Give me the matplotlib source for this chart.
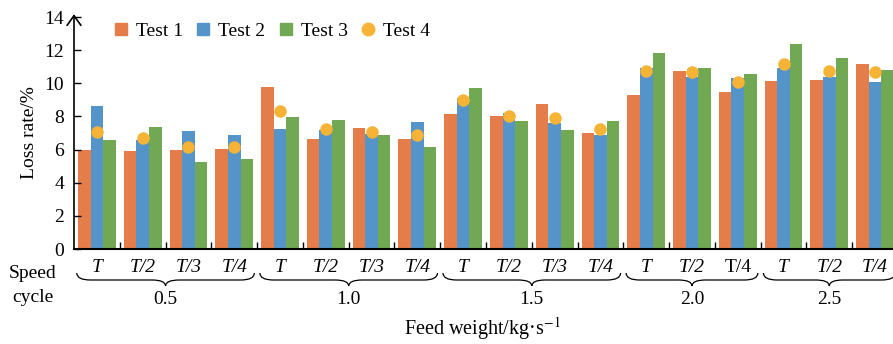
import numpy as np
import matplotlib
matplotlib.use('Agg')
import matplotlib.pyplot as plt
from matplotlib.path import Path
from matplotlib.patches import PathPatch
from matplotlib.lines import Line2D
import matplotlib.transforms as mtransforms

plt.rcParams['font.family'] = ['Liberation Serif', 'DejaVu Serif']
plt.rcParams['mathtext.fontset'] = 'stix'

# data
feed_weights = ['0.5', '1.0', '1.5', '2.0', '2.5']
group_sizes = [4, 4, 4, 3, 3]
speed_labels = ['T', 'T/2', 'T/3', 'T/4',
                'T', 'T/2', 'T/3', 'T/4',
                'T', 'T/2', 'T/3', 'T/4',
                'T', 'T/2', 'T/4',
                'T', 'T/2', 'T/4']
speed_italic = [True] * 14 + [False] + [True] * 3
test1 = [6.0, 5.9, 5.95, 6.05, 9.75, 6.65, 7.3, 6.65, 8.15, 8.05, 8.75, 7.0,
         9.3, 10.75, 9.45, 10.15, 10.2, 11.15]
test2 = [8.6, 6.6, 7.15, 6.9, 7.25, 7.2, 6.95, 7.65, 9.1, 8.2, 7.6, 6.85,
         10.9, 10.4, 10.3, 10.9, 10.4, 10.1]
test3 = [6.55, 7.35, 5.25, 5.45, 7.95, 7.8, 6.85, 6.15, 9.7, 7.7, 7.2, 7.7,
         11.85, 10.9, 10.55, 12.35, 11.55, 10.8]
test4 = [7.05, 6.7, 6.15, 6.15, 8.35, 7.25, 7.05, 6.85, 9.0, 8.05, 7.9, 7.25,
         10.75, 10.7, 10.1, 11.15, 10.75, 10.7]

c1, c2, c3, c4 = '#E57D4B', '#5594C8', '#71A854', '#F6B335'
fs = 14

W, H = 893, 344
fig = plt.figure(figsize=(W / 100, H / 100), dpi=100)
ax = fig.add_axes([74 / W, (H - 249) / H, (898 - 74) / W, (249 - 17) / H])

x = np.arange(len(test1))
bw = 0.275
ax.bar(x - bw, test1, bw, color=c1, linewidth=0)
ax.bar(x, test2, bw, color=c2, linewidth=0)
ax.bar(x + bw, test3, bw, color=c3, linewidth=0)
ax.plot(x, test4, 'o', color=c4, markersize=9, markeredgewidth=0, zorder=5)

ax.set_xlim(-0.5, len(test1) - 0.5)
ax.set_ylim(0, 14)
ax.set_yticks(np.arange(0, 15, 2))
ax.tick_params(axis='y', direction='in', length=5, width=1, pad=7, labelsize=fs)
ax.set_xticks(np.arange(0.5, len(test1) - 0.5, 1))
ax.set_xticklabels([])
ax.tick_params(axis='x', direction='in', length=5, width=1)
for s in ['top', 'right', 'left']:
    ax.spines[s].set_visible(False)
ax.spines['bottom'].set_linewidth(1.5)
ax.annotate('', xy=(0, 1.012), xytext=(0, 0), xycoords='axes fraction',
            arrowprops=dict(arrowstyle='->,head_length=0.7,head_width=0.5',
                            lw=1.2, color='black', shrinkA=0, shrinkB=0))
ax.set_ylabel('Loss rate/%', fontsize=fs)
ax.yaxis.set_label_coords((38 - 74) / 824, 0.5)

# speed cycle labels
trans = mtransforms.blended_transform_factory(ax.transData, ax.transAxes)
def yfrac(p):
    return (249 - p) / 232

for i, (lab, it) in enumerate(zip(speed_labels, speed_italic)):
    ax.text(i, yfrac(268), lab, transform=trans, ha='center', va='center',
            fontsize=fs, fontstyle='italic' if it else 'normal', clip_on=False)

# braces and feed weight labels
start = -0.5
y_top, y_mid, y_tip = yfrac(273), yfrac(280), yfrac(286)
for fw, n in zip(feed_weights, group_sizes):
    x0, x1 = start + 0.06, start + n - 0.06
    xc = start + n / 2
    r = 0.3
    verts = [(x0, y_top), (x0, y_mid), (x0 + r, y_mid),
             (xc - r, y_mid), (xc, y_mid), (xc, y_tip),
             (xc, y_mid), (xc + r, y_mid),
             (x1 - r, y_mid), (x1, y_mid), (x1, y_top)]
    codes = [Path.MOVETO, Path.CURVE3, Path.CURVE3,
             Path.LINETO, Path.CURVE3, Path.CURVE3,
             Path.CURVE3, Path.CURVE3,
             Path.LINETO, Path.CURVE3, Path.CURVE3]
    ax.add_patch(PathPatch(Path(verts, codes), transform=trans, fill=False,
                           lw=0.9, color='black', clip_on=False))
    ax.text(xc, yfrac(300), fw, transform=trans, ha='center', va='center',
            fontsize=fs, clip_on=False)
    start += n

fig.text(33 / W, 1 - 273 / H, 'Speed', ha='center', va='center', fontsize=fs)
fig.text(33 / W, 1 - 297 / H, 'cycle', ha='center', va='center', fontsize=fs)
fig.text(482 / W, 1 - 329 / H, 'Feed weight/kg·s$^{-1}$', ha='center',
         va='center', fontsize=14.5)

handles = [Line2D([], [], ls='', marker='s', color=c1, markersize=8),
           Line2D([], [], ls='', marker='s', color=c2, markersize=8),
           Line2D([], [], ls='', marker='s', color=c3, markersize=8),
           Line2D([], [], ls='', marker='o', color=c4, markersize=9)]
fig.legend(handles, ['Test 1', 'Test 2', 'Test 3', 'Test 4'], ncol=4,
           loc='center left', bbox_to_anchor=(115 / W, 1 - 31 / H),
           frameon=False, fontsize=fs, handlelength=0.6, handletextpad=0.47,
           columnspacing=0.75, borderpad=0, borderaxespad=0)

fig.savefig('out.png', dpi=100)
